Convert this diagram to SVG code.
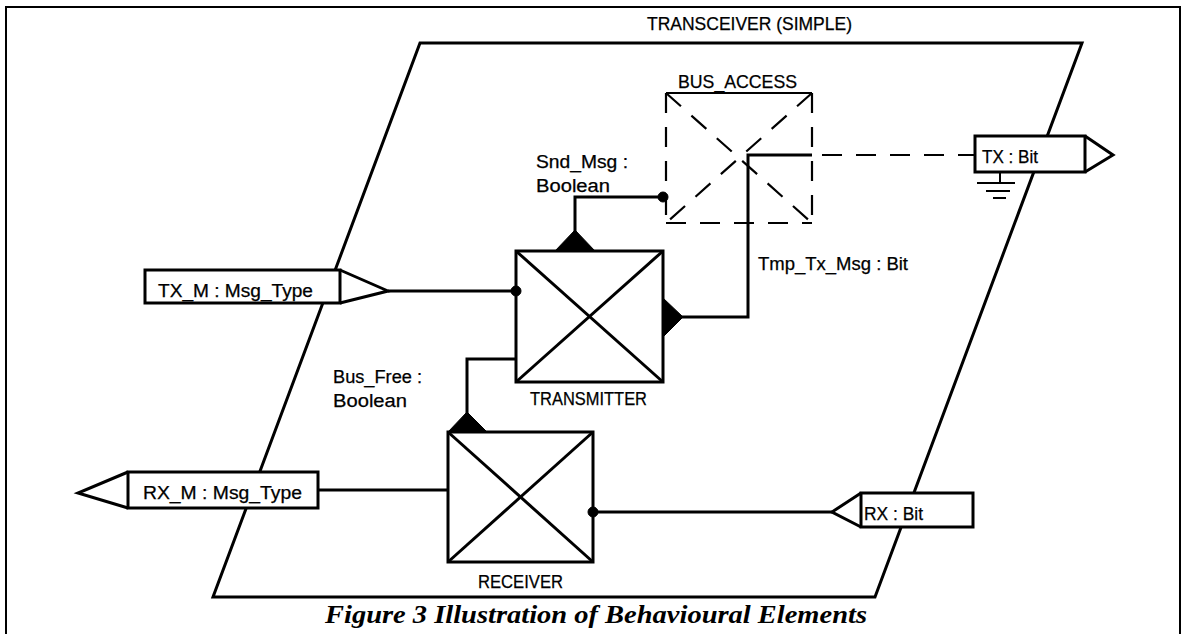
<svg xmlns="http://www.w3.org/2000/svg" width="1183" height="634" viewBox="0 0 1183 634">
<defs>
<style>
.ln{fill:none;stroke:#000;stroke-width:3;stroke-linejoin:miter}
.dash{fill:none;stroke:#000;stroke-width:2.2;stroke-dasharray:20 14}
.box{fill:#fff;stroke:#000;stroke-width:3}
.fill{fill:#000;stroke:#000;stroke-width:1}
.t{font-family:"Liberation Sans",Arial,sans-serif;font-size:18px;fill:#000;stroke:#000;stroke-width:0.25}
.cap{font-family:"Liberation Serif","Times New Roman",serif;font-size:26px;font-weight:bold;font-style:italic;fill:#000}
</style>
</defs>
<rect x="0" y="0" width="1183" height="634" fill="#fff"/>
<g id="frame">
<rect x="6" y="7" width="1174" height="640" fill="none" stroke="#000" stroke-width="2"/>
</g>
<g id="transceiver">
<polygon class="ln" points="420,43 1082,43 875,597 213,597"/>
<text class="t" x="647" y="30" textLength="205" lengthAdjust="spacingAndGlyphs">TRANSCEIVER (SIMPLE)</text>
</g>
<g id="connectors">
<polyline class="ln" points="663,197 575,197 575,232"/>
<polyline class="ln" points="388,291 516,291"/>
<polyline class="ln" points="682,317 748,317 748,155 812,155"/>
<line class="dash" x1="812" y1="155" x2="975" y2="155" stroke-dashoffset="-10"/>
<polyline class="ln" points="516,359 467,359 467,414"/>
<line class="ln" x1="318" y1="490" x2="448" y2="490"/>
<line class="ln" x1="593" y1="512" x2="832" y2="512"/>
<text class="t" x="536" y="168" textLength="92" lengthAdjust="spacingAndGlyphs">Snd_Msg :</text>
<text class="t" x="536" y="192" textLength="74" lengthAdjust="spacingAndGlyphs">Boolean</text>
<text class="t" x="758" y="270" textLength="150" lengthAdjust="spacingAndGlyphs">Tmp_Tx_Msg : Bit</text>
<text class="t" x="333" y="383" textLength="89" lengthAdjust="spacingAndGlyphs">Bus_Free :</text>
<text class="t" x="333" y="407" textLength="74" lengthAdjust="spacingAndGlyphs">Boolean</text>
</g>
<g id="bus_access">
<line x1="666" y1="93" x2="812" y2="93" stroke="#000" stroke-width="2.2"/>
<line class="dash" x1="666" y1="93" x2="666" y2="223"/>
<line class="dash" x1="812" y1="93" x2="812" y2="223"/>
<line class="dash" x1="666" y1="223" x2="812" y2="223"/>
<line class="dash" x1="666" y1="93" x2="812" y2="223"/>
<line class="dash" x1="812" y1="93" x2="666" y2="223"/>
<circle class="fill" cx="663" cy="197" r="5"/>
<text class="t" x="678" y="88" textLength="119" lengthAdjust="spacingAndGlyphs">BUS_ACCESS</text>
</g>
<g id="transmitter">
<rect class="box" x="516" y="251" width="147" height="131"/>
<line class="ln" x1="516" y1="251" x2="663" y2="382"/>
<line class="ln" x1="663" y1="251" x2="516" y2="382"/>
<polygon class="fill" points="555,251 575,230 595,251"/>
<polygon class="fill" points="663,298 683,317 663,337"/>
<circle class="fill" cx="516" cy="291" r="5"/>
<text class="t" x="530" y="405" textLength="117" lengthAdjust="spacingAndGlyphs">TRANSMITTER</text>
</g>
<g id="receiver">
<rect class="box" x="448" y="432" width="145" height="130"/>
<line class="ln" x1="448" y1="432" x2="593" y2="562"/>
<line class="ln" x1="593" y1="432" x2="448" y2="562"/>
<polygon class="fill" points="448,432 467,412 487,432"/>
<circle class="fill" cx="593" cy="512" r="5"/>
<text class="t" x="478" y="588" textLength="85" lengthAdjust="spacingAndGlyphs">RECEIVER</text>
</g>
<g id="port_tx_m">
<rect class="box" x="145" y="270" width="195" height="33"/>
<polyline class="ln" points="340,270 388,291 340,303"/>
<text class="t" x="158" y="297" textLength="155" lengthAdjust="spacingAndGlyphs">TX_M : Msg_Type</text>
</g>
<g id="port_rx_m">
<rect class="box" x="128" y="472" width="190" height="36"/>
<polyline class="ln" points="128,472 78,493 128,508"/>
<text class="t" x="143" y="499" textLength="159" lengthAdjust="spacingAndGlyphs">RX_M : Msg_Type</text>
</g>
<g id="port_tx">
<rect class="box" x="975" y="136" width="110" height="36"/>
<polyline class="ln" points="1085,136 1113,155 1085,172"/>
<text class="t" x="982" y="163" textLength="56" lengthAdjust="spacingAndGlyphs">TX : Bit</text>
<line x1="1000" y1="172" x2="1000" y2="183" stroke="#000" stroke-width="2"/>
<line x1="977" y1="183" x2="1015" y2="183" stroke="#000" stroke-width="2"/>
<line x1="986" y1="191" x2="1010" y2="191" stroke="#000" stroke-width="2"/>
<line x1="993" y1="198" x2="1006" y2="198" stroke="#000" stroke-width="2"/>
</g>
<g id="port_rx">
<rect class="box" x="861" y="493" width="112" height="34"/>
<polyline class="ln" points="861,493 832,512 861,527"/>
<text class="t" x="864" y="520" textLength="59" lengthAdjust="spacingAndGlyphs">RX : Bit</text>
</g>
<g id="caption">
<text class="cap" x="325" y="623" textLength="542" lengthAdjust="spacingAndGlyphs">Figure 3 Illustration of Behavioural Elements</text>
</g>
</svg>
